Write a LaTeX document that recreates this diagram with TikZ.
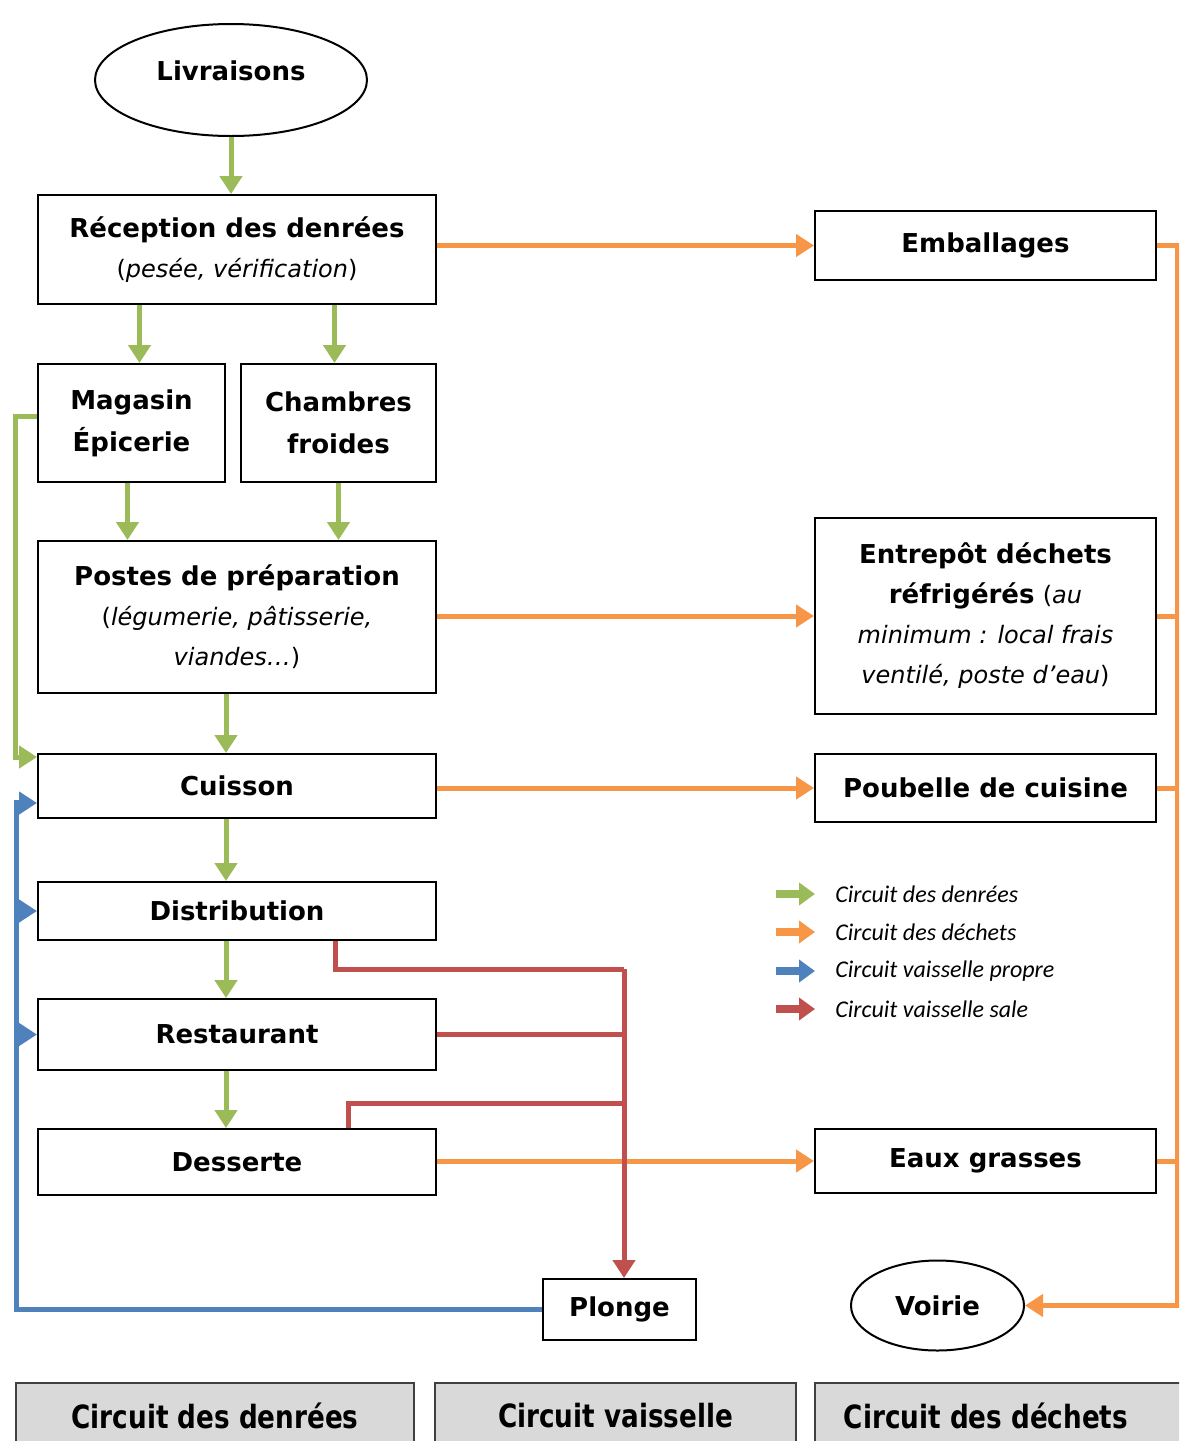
\documentclass[tikz,border=0pt]{standalone}
\usepackage{fontspec}
\setmainfont{DejaVu Sans}
\newfontfamily\legfont{Carlito}
\newfontfamily\tabfont[FakeStretch=0.82]{DejaVu Sans}
\usetikzlibrary{arrows.meta,shapes.geometric}

\definecolor{cfood}{HTML}{9BBB59}
\definecolor{cwaste}{HTML}{F79646}
\definecolor{cclean}{HTML}{4F81BD}
\definecolor{cdirty}{HTML}{C0504D}
\definecolor{tabgrey}{HTML}{D9D9D9}

\newcommand\smallit[1]{{\fontsize{12}{20}\selectfont(\textit{#1})}}

\begin{document}
\begin{tikzpicture}[
    x=0.5pt, y=-0.5pt,
    >={Triangle[length=9pt,width=11pt]},
    box/.style={draw, line width=1pt, inner sep=0pt, align=center,
      font=\fontsize{13}{20}\selectfont},
    oval/.style={draw, ellipse, line width=1pt, inner sep=0pt,
      font=\fontsize{13}{20}\selectfont\bfseries},
    tab/.style={draw=black!75, fill=tabgrey, line width=1pt, inner sep=0pt,
      minimum height=33pt, font=\tabfont\bfseries\fontsize{16}{18}\selectfont},
    tabtext/.style={inner sep=0pt, font=\tabfont\bfseries\fontsize{16}{18}\selectfont},
    legtext/.style={anchor=west, inner sep=0pt,
      font=\legfont\itshape\fontsize{12}{14}\selectfont},
    foodline/.style={draw=cfood, line width=2.5pt},
    wasteline/.style={draw=cwaste, line width=2.5pt},
    cleanline/.style={draw=cclean, line width=2.5pt},
    dirtyline/.style={draw=cdirty, line width=2.5pt},
    legarrow/.style={line width=4pt, -{Triangle[length=8pt,width=11pt]}}
  ]
  \clip (0,0) rectangle (1179,1441);

  % Circuit des denrees
  \node[oval, minimum width=136pt, minimum height=56pt, text depth=9pt] (liv) at (231,80) {Livraisons};
  \node[box, minimum width=199pt, minimum height=54.5pt] (rec) at (237,249.5)
    {\textbf{Réception des denrées}\\\smallit{pesée, vérification}};
  \node[box, minimum width=93.5pt, minimum height=59pt] (mag) at (131.5,423)
    {\textbf{Magasin}\\[1pt]\textbf{Épicerie}};
  \node[box, minimum width=97.5pt, minimum height=59pt] (cha) at (338.5,423)
    {\textbf{Chambres}\\[1pt]\textbf{froides}};
  \node[box, minimum width=199pt, minimum height=76pt] (pos) at (237,617)
    {\textbf{Postes de préparation}\\
     {\fontsize{12}{20}\selectfont(\textit{légumerie, pâtisserie,}}\\
     {\fontsize{12}{20}\selectfont\textit{viandes…})}};
  \node[box, minimum width=199pt, minimum height=32pt] (cui) at (237,786) {\textbf{Cuisson}};
  \node[box, minimum width=199pt, minimum height=29pt] (dis) at (237,911) {\textbf{Distribution}};
  \node[box, minimum width=199pt, minimum height=35.5pt] (res) at (237,1034.5) {\textbf{Restaurant}};
  \node[box, minimum width=199pt, minimum height=33pt] (des) at (237,1162) {\textbf{Desserte}};
  \node[box, minimum width=76.5pt, minimum height=30.5pt] (plo) at (619.5,1309.5) {\textbf{Plonge}};

  % Circuit des dechets
  \node[box, minimum width=170.5pt, minimum height=34.5pt] (emb) at (985.5,245.5) {\textbf{Emballages}};
  \node[box, minimum width=170.5pt, minimum height=98pt] (ent) at (985.5,616)
    {\textbf{Entrepôt déchets}\\
     \textbf{réfrigérés} {\fontsize{12}{20}\selectfont(\textit{au}}\\
     {\fontsize{12}{20}\selectfont\textit{minimum : local frais}}\\
     {\fontsize{12}{20}\selectfont\textit{ventilé, poste d'eau})}};
  \node[box, minimum width=170.5pt, minimum height=34pt] (pou) at (985.5,788) {\textbf{Poubelle de cuisine}};
  \node[box, minimum width=170.5pt, minimum height=32pt] (eau) at (985.5,1161) {\textbf{Eaux grasses}};
  \node[oval, minimum width=86.5pt, minimum height=45pt] (voi) at (937.5,1305.5) {Voirie};

  % denrees
  \draw[foodline,->] (liv) -- (liv.south |- rec.north);
  \draw[foodline,->] ([xshift=4pt]mag.north |- rec.south) -- ([xshift=4pt]mag.north);
  \draw[foodline,->] ([xshift=-2pt]cha.north |- rec.south) -- ([xshift=-2pt]cha.north);
  \draw[foodline,->] ([xshift=-2pt]mag.south) -- ([xshift=-2pt]mag.south |- pos.north);
  \draw[foodline,->] (cha.south) -- (cha.south |- pos.north);
  \draw[foodline,->] ([xshift=-5.5pt]pos.south) -- ([xshift=-5.5pt]cui.north);
  \draw[foodline,->] ([xshift=-5.5pt]cui.south) -- ([xshift=-5.5pt]dis.north);
  \draw[foodline,->] ([xshift=-5.5pt]dis.south) -- ([xshift=-5.5pt]res.north);
  \draw[foodline,->] ([xshift=-5.5pt]res.south) -- ([xshift=-5.5pt]des.north);
  \draw[foodline,->] ([yshift=3.5pt]mag.west) -- ++(-11pt,0) |- ([yshift=-2pt]cui.north west);

  % dechets
  \draw[wasteline,->] (rec.east |- emb.west) -- (emb.west);
  \draw[wasteline,->] (pos.east |- ent.west) -- (ent.west);
  \draw[wasteline,->] (cui.east |- pou.west) -- (pou.west);
  \draw[wasteline,->] (des.east |- eau.west) -- (eau.west);
  \coordinate (ov) at (1177,246);
  \draw[wasteline,->] (emb.east) -| (ov |- voi.east) -- (voi.east);
  \draw[wasteline] (ent.east) -- (ent.east -| ov);
  \draw[wasteline] (pou.east) -- (pou.east -| ov);
  \draw[wasteline] (eau.east) -- (eau.east -| ov);

  % vaisselle sale
  \coordinate (rv) at (624,969);
  \draw[dirtyline] ([xshift=49pt]dis.south) |- (rv);
  \draw[dirtyline] (res.east) -- (res.east -| rv);
  \draw[dirtyline] ([xshift=55.5pt]des.north) -- ++(0,-25) coordinate (dj) -- (dj -| rv);
  \draw[dirtyline,->] (rv) -- (plo.north -| rv);

  % vaisselle propre
  \coordinate (bl) at (16,800);
  \draw[cleanline] (plo.west) -| (bl);
  \draw[cleanline,->] ([yshift=-8.5pt]cui.west -| bl) -- ([yshift=-8.5pt]cui.west);
  \draw[cleanline,->] (dis.west -| bl) -- (dis.west);
  \draw[cleanline,->] (res.west -| bl) -- (res.west);

  % legende
  \node[legtext] (lg1) at (835,894) {Circuit des denrées};
  \node[legtext] (lg2) at (835,932) {Circuit des déchets};
  \node[legtext] (lg3) at (835,971) {Circuit vaisselle propre};
  \node[legtext] (lg4) at (835,1009) {Circuit vaisselle sale};
  \draw[legarrow, cfood] ([xshift=-29.5pt]lg1.west) -- ([xshift=-10pt]lg1.west);
  \draw[legarrow, cwaste] ([xshift=-29.5pt]lg2.west) -- ([xshift=-10pt]lg2.west);
  \draw[legarrow, cclean] ([xshift=-29.5pt]lg3.west) -- ([xshift=-10pt]lg3.west);
  \draw[legarrow, cdirty] ([xshift=-29.5pt]lg4.west) -- ([xshift=-10pt]lg4.west);

  % onglets
  \node[tab, minimum width=199pt] (t1) at (215,1416) {Circuit des denrées};
  \node[tab, minimum width=180.5pt] (t2) at (615.5,1416) {Circuit vaisselle};
  \node[tab, minimum width=190pt] (t3) at (1005,1416) {};
  \node[tabtext] (t3txt) at (986,1416) {Circuit des déchets};
\end{tikzpicture}
\end{document}
